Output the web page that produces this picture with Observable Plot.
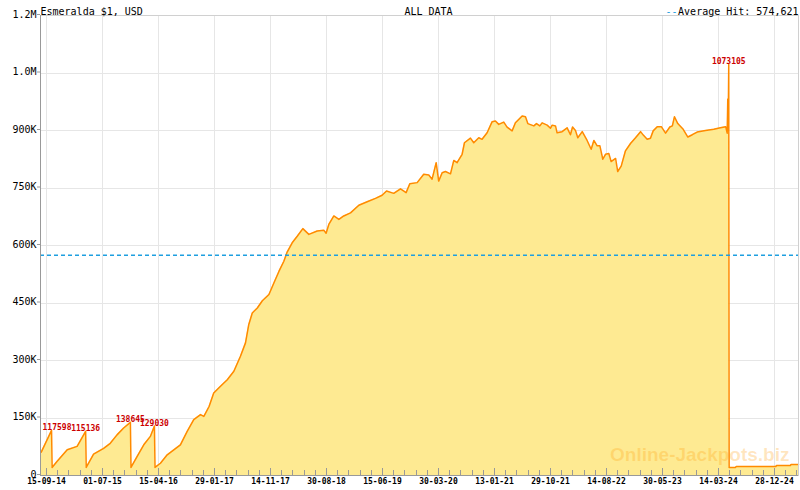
<!DOCTYPE html>
<html>
<head>
<meta charset="utf-8">
<script src="https://cdn.jsdelivr.net/npm/d3@7"></script>
<script src="https://cdn.jsdelivr.net/npm/@observablehq/plot@0.6"></script>
<style>
  body { margin: 0; background: #fff; }
</style>
</head>
<body>
<div id="chart"></div>
<script>
// jackpot amount history, values in thousands of USD
const dates = [
  "2014-08-19","2014-10-11","2014-10-14","2014-11-09","2014-12-31","2015-02-20","2015-04-05","2015-04-08",
  "2015-05-16","2015-07-07","2015-08-10","2015-09-14","2015-10-18","2015-11-22","2015-11-25","2015-12-27",
  "2016-01-30","2016-03-04","2016-03-25","2016-03-28","2016-04-25","2016-05-30","2016-07-03","2016-08-06",
  "2016-09-10","2016-10-14","2016-11-18","2016-12-05","2017-01-01","2017-01-25","2017-03-01","2017-04-05",
  "2017-05-09","2017-06-12","2017-07-08","2017-07-25","2017-08-12","2017-09-07","2017-10-03","2017-11-06",
  "2017-12-02","2017-12-28","2018-01-22","2018-02-08","2018-03-06","2018-04-01","2018-04-30","2018-05-31",
  "2018-07-13","2018-08-16","2018-08-28","2018-09-11","2018-10-07","2018-11-02","2018-11-27","2019-01-01",
  "2019-02-13","2019-03-28","2019-05-10","2019-06-13","2019-07-06","2019-08-12","2019-09-16","2019-10-15",
  "2019-11-03","2019-12-11","2020-01-14","2020-02-09","2020-02-26","2020-03-18","2020-03-31","2020-04-18",
  "2020-05-05","2020-05-31","2020-06-17","2020-07-04","2020-07-30","2020-08-11","2020-09-11","2020-09-28",
  "2020-10-24","2020-11-10","2020-12-06","2021-01-01","2021-01-18","2021-02-04","2021-03-02","2021-03-19",
  "2021-04-14","2021-05-01","2021-06-05","2021-06-22","2021-07-04","2021-08-04","2021-08-18","2021-09-04",
  "2021-09-16","2021-10-12","2021-10-29","2021-11-07","2021-11-24","2021-12-02","2021-12-28","2022-01-23",
  "2022-02-09","2022-02-20","2022-03-07","2022-03-19","2022-04-11","2022-05-06","2022-05-27","2022-06-10",
  "2022-06-27","2022-07-11","2022-07-26","2022-08-09","2022-08-26","2022-09-07","2022-09-30","2022-10-11",
  "2022-10-29","2022-11-20","2022-12-16","2023-01-11","2023-02-06","2023-02-20","2023-03-12","2023-03-29",
  "2023-04-12","2023-05-03","2023-05-24","2023-06-15","2023-07-07","2023-07-20","2023-07-31","2023-08-17",
  "2023-09-14","2023-10-08","2023-10-31","2023-11-25","2024-01-07","2024-02-19","2024-03-24","2024-04-20",
  "2024-04-28","2024-05-01","2024-05-03","2024-05-06","2024-05-08","2024-06-09","2024-06-14","2025-01-04",
  "2025-01-07","2025-03-20","2025-03-24","2025-05-01"
];
const values = [
  61, 117.598, 21, 37, 67, 76, 115.136, 21,
  56, 71, 84, 106, 124, 138.645, 21, 50,
  80, 102, 129.03, 21, 32, 54, 67, 80,
  115, 146, 159, 154, 180, 215, 233, 250,
  272, 311, 346, 394, 424, 437, 456, 472,
  503, 533, 559, 583, 607, 624, 644, 629,
  638, 640, 632, 655, 677, 668, 677, 685,
  705, 714, 723, 731, 742, 736, 748, 738,
  761, 764, 786, 784, 773, 816, 768, 790,
  793, 787, 822, 816, 838, 868, 880, 868,
  881, 877, 894, 923, 925, 916, 922, 909,
  899, 920, 938, 936, 918, 912, 918, 912,
  920, 914, 906, 914, 912, 894, 897, 907,
  889, 909, 900, 881, 897, 874, 851, 874,
  860, 860, 825, 838, 840, 819, 827, 793,
  807, 847, 866, 881, 897, 888, 877, 880,
  899, 910, 910, 893, 909, 912, 936, 918,
  903, 883, 889, 896, 900, 903, 907, 910,
  893, 982, 900, 1073.105, 21, 21, 23.5, 23.5,
  26, 26, 29, 29
];

// labelled hits
const hitDates = ["2014-10-11", "2015-04-05", "2015-11-22", "2016-03-25", "2024-05-06"];
const hitValues = [117.598, 115.136, 138.645, 129.03, 1073.105];
const hitLabels = ["117598", "115136", "138645", "129030", "1073105"];

const averageHit = 574.621;

const xTickDates = [
  "2014-09-15","2015-07-01","2016-04-15","2017-01-29","2017-11-14","2018-08-30","2019-06-15",
  "2020-03-30","2021-01-13","2021-10-29","2022-08-14","2023-05-30","2024-03-14","2024-12-28"
];
const yTicks = [0, 150, 300, 450, 600, 750, 900, 1050, 1200];
const yTickLabels = ["0", "150K", "300K", "450K", "600K", "750K", "900K", "1.0M", "1.2M"];

const parse = d3.utcParse("%Y-%m-%d");
const data = dates.map((d, i) => ({ date: parse(d), value: values[i] }));
const hits = hitDates.map((d, i) => ({ date: parse(d), value: hitValues[i], label: hitLabels[i] }));
const xTicks = xTickDates.map(parse);

// minor ticks: 4 between each major
const step = (xTicks[1] - xTicks[0]) / 5;
const xDomain = [parse("2014-08-15"), parse("2025-05-01")];
const minorTicks = [];
for (let t = +xTicks[0] - step; t <= +xDomain[1]; t += step) {
  if (t >= +xDomain[0]) minorTicks.push(new Date(t));
}

const crisp = { shapeRendering: "crispEdges" };

const chart = Plot.plot({
  width: 800,
  height: 490,
  marginLeft: 40,
  marginRight: 2,
  marginTop: 15,
  marginBottom: 15,
  style: { background: "#fff", color: "#000", fontFamily: "DejaVu Sans Mono", fontSize: "10px" },
  x: { type: "utc", domain: xDomain },
  y: { domain: [0, 1200] },
  marks: [
    Plot.gridX(xTicks, { stroke: "#e6e6e6", strokeOpacity: 1, ...crisp }),
    Plot.gridY(yTicks, { stroke: "#e6e6e6", strokeOpacity: 1, ...crisp }),
    Plot.areaY(data, { x: "date", y: "value", fill: "#feea92" }),
    Plot.lineY(data, { x: "date", y: "value", stroke: "#ff8a00", strokeWidth: 1.5 }),
    Plot.ruleY([averageHit], { stroke: "#1e9fe0", strokeWidth: 1.5, strokeDasharray: "4,3" }),
    Plot.frame({ stroke: "#d0d0d0", ...crisp }),
    Plot.ruleX(xDomain.slice(0, 1), { stroke: "#999", ...crisp }),
    Plot.ruleY([0], { stroke: "#999", ...crisp }),
    Plot.ruleX(minorTicks, { stroke: "#999", insetTop: 455, ...crisp }),
    Plot.ruleX(xTicks, { stroke: "#999", insetTop: 453, ...crisp }),
    Plot.axisX(xTicks, {
      tickFormat: d3.utcFormat("%d-%m-%y"), tickSize: 0, tickPadding: 3,
      fontSize: 8, fontWeight: "bold", label: null
    }),
    Plot.axisY(yTicks, {
      tickFormat: d => yTickLabels[yTicks.indexOf(d)], tickSize: 3, tickPadding: 1,
      stroke: "#999", fontSize: 10, label: null, dy: -1
    }),
    Plot.text(hits.slice(0, 1), {
      x: "date", y: "value", text: "label", textAnchor: "start", dx: -9,
      lineAnchor: "bottom", fill: "#cc0000", fontSize: 8, fontWeight: "bold"
    }),
    Plot.text(hits.slice(1), {
      x: "date", y: "value", text: "label",
      lineAnchor: "bottom", fill: "#cc0000", fontSize: 8, fontWeight: "bold"
    }),
    Plot.text(["Online-Jackpots.biz"], {
      frameAnchor: "bottom-right", textAnchor: "end", dx: -9, dy: -15,
      fontFamily: "Liberation Sans", fontWeight: "bold", fontSize: 19,
      fill: "#ff9900", fillOpacity: 0.25
    }),
    Plot.text(["Esmeralda $1, USD"], { frameAnchor: "top-left", textAnchor: "start", dy: -8, fontSize: 10 }),
    Plot.text(["ALL DATA"], { frameAnchor: "top", dx: 9, dy: -8, fontSize: 10 }),
    Plot.text(["Average Hit: 574,621"], { frameAnchor: "top-right", textAnchor: "end", dy: -8, fontSize: 10 }),
    Plot.text(["--"], { frameAnchor: "top-right", textAnchor: "end", dx: -121, dy: -8, fontSize: 10, fill: "#1e9fe0" })
  ]
});

document.getElementById("chart").replaceChildren(chart);
</script>
</body>
</html>
